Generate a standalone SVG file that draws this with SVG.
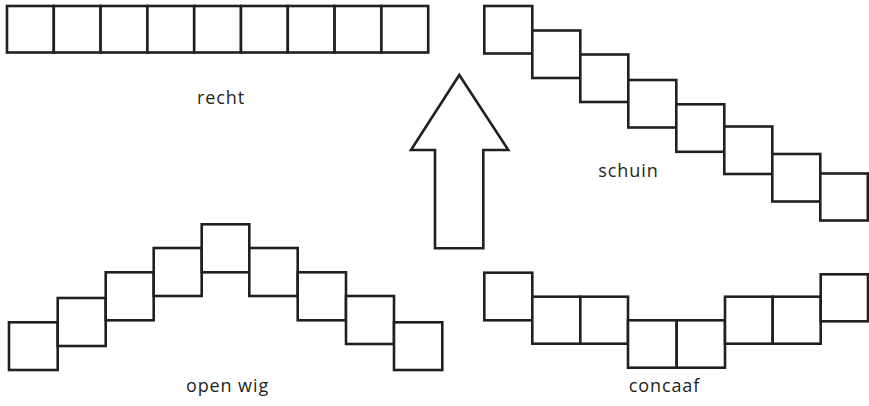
<svg xmlns="http://www.w3.org/2000/svg" width="869" height="406" viewBox="0 0 869 406">
<style>
.sq{fill:#fff;stroke:#231f20;stroke-width:2.6}
.lbl{font-family:"Open Sans","Liberation Sans",sans-serif;font-size:18px;letter-spacing:0.9px;fill:#231f20;text-anchor:middle}
</style>
<rect width="869" height="406" fill="#fff"/>
<g id="recht">
<rect class="sq" x="7" y="6" width="46.8" height="46.5"/>
<rect class="sq" x="53.8" y="6" width="46.8" height="46.5"/>
<rect class="sq" x="100.6" y="6" width="46.8" height="46.5"/>
<rect class="sq" x="147.4" y="6" width="46.8" height="46.5"/>
<rect class="sq" x="194.2" y="6" width="46.8" height="46.5"/>
<rect class="sq" x="241" y="6" width="46.8" height="46.5"/>
<rect class="sq" x="287.8" y="6" width="46.8" height="46.5"/>
<rect class="sq" x="334.6" y="6" width="46.8" height="46.5"/>
<rect class="sq" x="381.4" y="6" width="46.8" height="46.5"/>
<text class="lbl" x="221" y="104">recht</text>
</g>
<g id="schuin">
<rect class="sq" x="484.3" y="6" width="48" height="47.5"/>
<rect class="sq" x="532.3" y="30.5" width="48" height="47.5"/>
<rect class="sq" x="580.3" y="54.5" width="48" height="47.5"/>
<rect class="sq" x="628.3" y="80" width="48" height="47.5"/>
<rect class="sq" x="676.3" y="104.3" width="48" height="47.5"/>
<rect class="sq" x="724.3" y="126.5" width="48" height="47.5"/>
<rect class="sq" x="772.3" y="154" width="48" height="47.5"/>
<rect class="sq" x="820.3" y="173.5" width="47.5" height="47"/>
<text class="lbl" x="628.5" y="176.5">schuin</text>
</g>
<g id="pijl">
<polygon class="sq" points="459.3,75 508.3,150 483.3,150 483.3,248.3 435,248.3 435,150 411,150"/>
</g>
<g id="openwig">
<rect class="sq" x="9" y="322.3" width="48.7" height="47.7"/>
<rect class="sq" x="57.7" y="298" width="48" height="48"/>
<rect class="sq" x="105.7" y="272.3" width="48" height="48"/>
<rect class="sq" x="153.7" y="248" width="48" height="48"/>
<rect class="sq" x="201.7" y="224.3" width="47.6" height="48"/>
<rect class="sq" x="249.3" y="248" width="48.4" height="48"/>
<rect class="sq" x="297.7" y="272.3" width="48.3" height="48"/>
<rect class="sq" x="346" y="296" width="48" height="48"/>
<rect class="sq" x="394" y="322.3" width="48.3" height="47.7"/>
<text class="lbl" x="227.5" y="392">open wig</text>
</g>
<g id="concaaf">
<rect class="sq" x="484.3" y="272.7" width="48" height="47.6"/>
<rect class="sq" x="532.3" y="296.7" width="48" height="47"/>
<rect class="sq" x="580.3" y="296.7" width="47.7" height="47"/>
<rect class="sq" x="628" y="320.3" width="48.7" height="47.4"/>
<rect class="sq" x="676.7" y="320.3" width="48.3" height="47.4"/>
<rect class="sq" x="725" y="296.7" width="47.7" height="47"/>
<rect class="sq" x="772.7" y="296.7" width="48" height="47"/>
<rect class="sq" x="820.7" y="274.3" width="47.3" height="47"/>
<text class="lbl" x="664.5" y="392">concaaf</text>
</g>
</svg>
